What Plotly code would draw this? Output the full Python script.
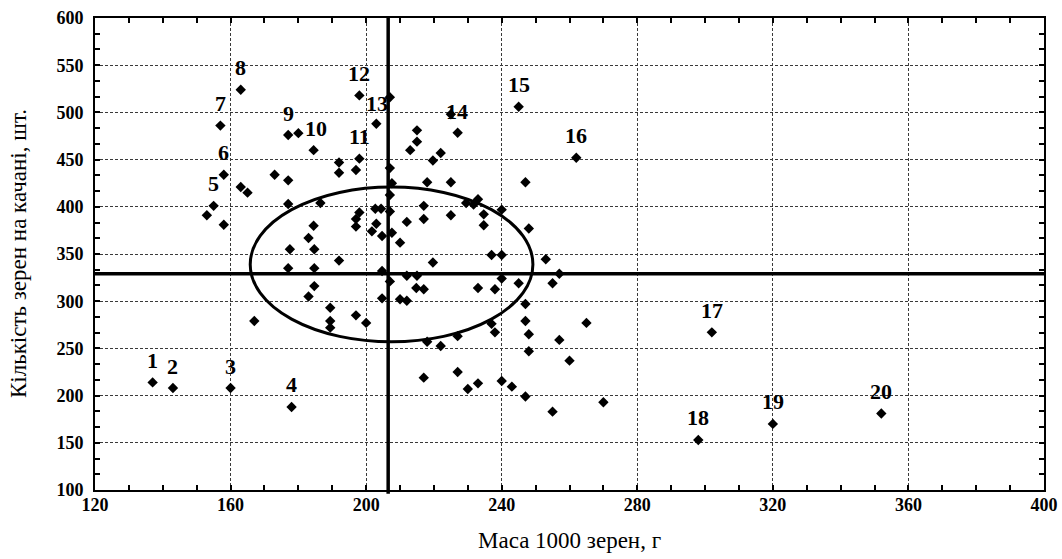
import plotly.graph_objects as go

# ---- data ----
labels = [str(i) for i in range(1, 21)]
lab_x = [137, 143, 160, 178, 155, 158, 157, 163, 177, 180, 198, 198, 207, 225, 245, 262, 302, 298, 320, 352]
lab_y = [214, 208, 208, 188, 401, 434, 486, 524, 476, 478, 451, 518, 516, 498, 506, 452, 267, 153, 170, 181]

other_x = [153, 158, 163, 165, 167, 173, 177, 177, 177.5, 177, 183, 183, 184.5, 184.5, 184.7, 184.7, 184.7,
           186.5, 189.4, 189.4, 189.4, 192, 192, 192, 197, 197, 197, 197, 198, 200, 201.7, 202.7, 203, 203,
           204.4, 204.7, 204.7, 204.7, 207, 207.6, 207, 207, 207.6, 207, 210, 210, 212, 212, 212, 213, 215,
           215, 215, 214.8, 217, 217, 217, 217, 218, 218, 219.7, 219.7, 222, 222, 225, 225, 227, 227, 227,
           229.5, 231.7, 233, 230, 233, 233, 234.7, 234.7, 237, 237, 238, 238, 240, 240, 240, 240, 243, 245,
           247, 247, 247, 247, 248, 248, 248, 253, 255, 255, 257, 257, 260, 265, 270]
other_y = [391, 381, 421, 415, 279, 434, 428, 403, 355, 335, 367, 305, 460, 380, 355, 335, 316,
           404, 293, 279, 272, 447, 436, 343, 439, 387, 379, 285, 394, 277, 374, 398, 488, 382,
           398, 369, 332, 303, 441, 425, 412.5, 395, 372.5, 321, 362, 302, 384, 327, 300.5, 460, 481,
           469, 327, 314, 312.6, 401, 387, 219, 426, 257, 449, 341, 457, 252.5, 426, 391, 478.5, 263, 225,
           404, 402.5, 408, 207, 213, 314, 392, 380.5, 349, 276, 312.6, 267, 397, 349, 324, 215.5, 209.5, 319,
           426, 297, 279, 199, 377, 265, 247, 344.5, 319, 183, 329, 259, 237, 277, 193]

mean_x = 206.5
mean_y = 329
ell_cx, ell_cy = 207.5, 339
ell_rx, ell_ry = 41.7, 82

x_ticks = [120, 160, 200, 240, 280, 320, 360, 400]
y_ticks = [100, 150, 200, 250, 300, 350, 400, 450, 500, 550, 600]

x_title = "Маса 1000 зерен, г"
y_title = "Кількість зерен на качані, шт."

# label offsets (pixels) for labels not simply centred above their point
label_shift = {"10": (18, 5), "13": (-13, -6), "14": (6, 3)}

SERIF = "Liberation Serif, Times New Roman, serif"

fig = go.Figure()
fig.add_trace(go.Scatter(
    x=other_x + lab_x, y=other_y + lab_y, mode="markers",
    marker=dict(symbol="diamond", size=8, color="black"),
    hoverinfo="skip", showlegend=False))

for t, xv, yv in zip(labels, lab_x, lab_y):
    dx, dy = label_shift.get(t, (0, 22))
    fig.add_annotation(x=xv, y=yv, text=t, showarrow=False,
                       xshift=dx, yshift=dy,
                       font=dict(family=SERIF, size=22, color="black", weight="bold"))

# ellipse and mean lines
fig.add_shape(type="circle", xref="x", yref="y",
              x0=ell_cx - ell_rx, x1=ell_cx + ell_rx, y0=ell_cy - ell_ry, y1=ell_cy + ell_ry,
              line=dict(color="black", width=3))
fig.add_shape(type="line", xref="x", yref="paper", x0=mean_x, x1=mean_x, y0=-0.008, y1=1,
              line=dict(color="black", width=3.5))
fig.add_shape(type="line", xref="paper", yref="y", x0=0, x1=1, y0=mean_y, y1=mean_y,
              line=dict(color="black", width=3.5))

axis_common = dict(
    showline=True, linecolor="black", linewidth=2, mirror="allticks",
    ticks="inside", ticklen=5, tickcolor="black", tickwidth=1.5,
    showgrid=True, gridcolor="#3a3a3a", gridwidth=1, griddash="3px,2px",
    zeroline=False,
    tickfont=dict(family=SERIF, size=18, color="black", weight="bold"),
)

fig.update_xaxes(range=[120, 400], tickvals=x_ticks, ticktext=[str(v) for v in x_ticks],
                 minor=dict(dtick=10, tick0=120, ticks="inside", ticklen=5, tickcolor="black", showgrid=False),
                 ticklabelstandoff=-3, **axis_common)
fig.update_yaxes(range=[100, 600], tickvals=y_ticks, ticktext=[str(v) for v in y_ticks],
                 minor=dict(dtick=50 / 3, tick0=100, ticks="inside", ticklen=5, tickcolor="black", showgrid=False),
                 ticklabelstandoff=6, **axis_common)

fig.add_annotation(xref="paper", yref="paper", x=0.5, y=0, yshift=-50, yanchor="middle",
                   text=x_title, showarrow=False,
                   font=dict(family=SERIF, size=23, color="black"))
fig.add_annotation(xref="paper", yref="paper", x=0, y=0.5, xshift=-77, xanchor="center",
                   yanchor="middle",
                   text=y_title, textangle=-90, showarrow=False,
                   font=dict(family=SERIF, size=23, color="black"))

fig.update_layout(
    width=1062, height=559,
    margin=dict(l=95, r=18, t=18, b=69, autoexpand=False),
    plot_bgcolor="white", paper_bgcolor="white",
    showlegend=False,
)

fig.write_html("out.html")
